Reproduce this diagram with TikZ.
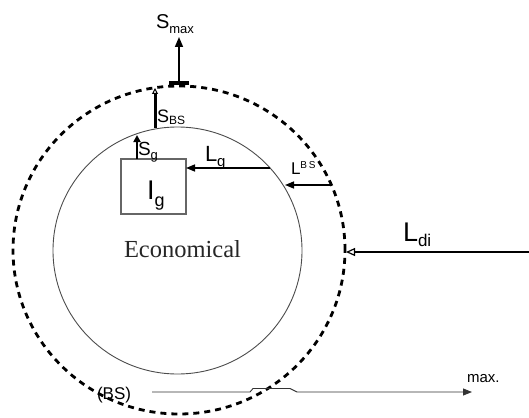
\documentclass[tikz,border=0pt]{standalone}
\usepackage{fontspec}
\setmainfont{Liberation Sans}
\newfontfamily\serifft{Liberation Serif}
\usetikzlibrary{arrows.meta,shapes.geometric}
\newcommand\fsz[2]{{\fontsize{#1}{#1}\selectfont #2}}
\begin{document}
\begin{tikzpicture}[x=1pt,y=-1pt,
  lbl/.style={anchor=base west, inner sep=0pt, outer sep=0pt},
  ring/.style={draw, ellipse, inner sep=0pt, outer sep=0pt},
  thinarrow/.style={line width=1.5pt, -{Triangle[length=9pt,width=7pt]}},
]
\useasboundingbox (0,0) rectangle (529,417);
% circles
\node[ring, minimum width=332pt, minimum height=328pt, line width=2.8pt,
      dash pattern=on 6pt off 5pt] (outer) at (179,250) {};
\node[ring, minimum width=249pt, minimum height=247pt, line width=0.9pt,
      draw=black!70] (inner) at (177.5,250.5) {};
% box
\node[draw=black!60, line width=1.1pt, minimum width=65pt, minimum height=55pt,
      inner sep=0pt] (box) at (153.5,186.5) {};
% coordinates
\coordinate (smaxA) at (179,85);
\coordinate (smaxB) at (179,37);
\coordinate (sbsA) at (155,128);
\coordinate (sbsB) at (155,88);
\coordinate (sgA) at (137,159);
\coordinate (sgB) at (137,135);
\coordinate (lgA) at (270,168);
\coordinate (lgB) at (186,168);
\coordinate (lbsA) at (331,185);
\coordinate (lbsB) at (285,185);
\coordinate (ldiA) at (529,252);
\coordinate (ldiB) at (346,252);
\coordinate (maxA) at (152,392);
\coordinate (maxB) at (472,392);
% arrows
\draw[line width=1.5pt, {Bar[width=20pt,line width=3.5pt]}-{Triangle[length=10pt,width=8pt]}] (smaxA) -- (smaxB);
\draw[line width=3pt, -{Triangle[open,length=6pt,width=6pt,line width=1pt]}] (sbsA) -- (sbsB);
\draw[line width=2.5pt, -{Triangle[length=7pt,width=7pt]}] (sgA) -- (sgB);
\draw[thinarrow] (lgA) -- (lgB);
\draw[thinarrow] (lbsA) -- (lbsB);
\draw[line width=2.5pt, -{Triangle[open,length=9pt,width=8pt,line width=1.2pt]}] (ldiA) -- (ldiB);
\draw[line width=0.9pt, draw=black!80, -{Triangle[length=9pt,width=7pt]}]
  (maxA) -- (250,392) -- (253,388.5) -- (290,388.5) -- (297,392) -- (maxB);
% labels
\node[lbl] (tsmax) at (156,29) {\fsz{20}{S}\raisebox{-5pt}{\fsz{13}{max}}};
\node[lbl] (tsbs) at (157,122) {\fsz{18}{S}\raisebox{-2pt}{\fsz{12}{BS}}};
\node[lbl] (tsg) at (138,155) {\fsz{19}{S}\raisebox{-4pt}{\fsz{13}{g}}};
\node[lbl] (tig) at (147,199) {\fsz{27}{I}\raisebox{-7pt}{\fsz{18}{g}}};
\node[lbl] (tlg) at (205,161) {\fsz{22}{L}\raisebox{-5pt}{\fsz{15}{g}}};
\node[lbl] (tlbs) at (291,174) {\fsz{17}{L}\raisebox{6pt}{\fsz{10}{B\,S}}};
\node[lbl] (tldi) at (403,241) {\fsz{27}{L}\raisebox{-5pt}{\fsz{17}{di}}};
\node[lbl, text=black!85] (teco) at (124,257) {\serifft\fsz{24.5}{Economical}};
\node[lbl] (tbs) at (97,399) {\fsz{17}{(BS)}};
\node[lbl] (tmax) at (467,382) {\fsz{15}{max.}};
\end{tikzpicture}
\end{document}
